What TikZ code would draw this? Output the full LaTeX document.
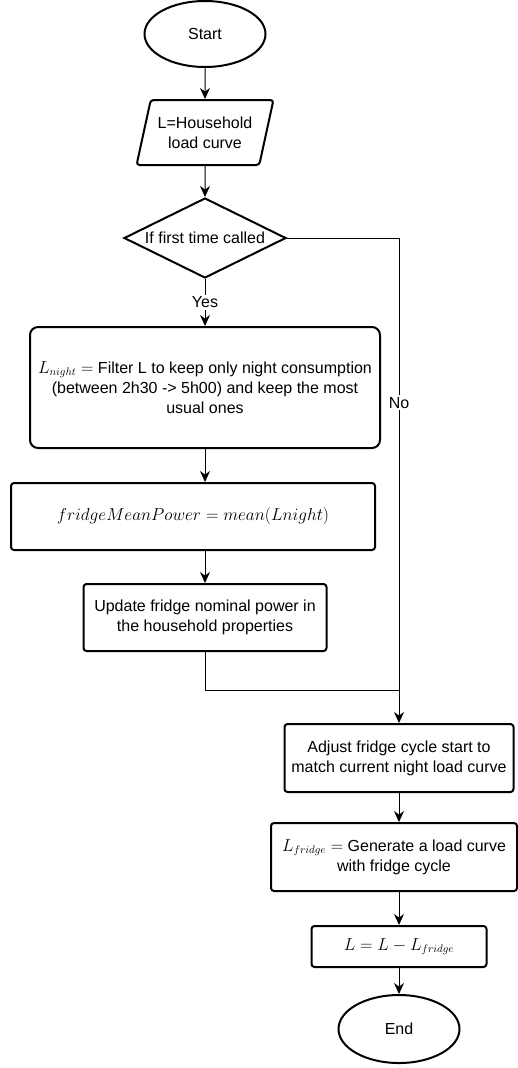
\documentclass[tikz,border=0pt]{standalone}
\usepackage{fontspec}
\setmainfont{Liberation Sans}
\usepackage{tikz}
\usetikzlibrary{positioning, shapes.geometric, arrows.meta}

\begin{document}
\begin{tikzpicture}[
        x=1pt, y=1pt,
        font=\fontsize{16}{20}\selectfont,
        terminal/.style={ellipse, draw, line width=2pt, minimum width=121pt, minimum height=66pt},
        io/.style={trapezium, trapezium left angle=71, trapezium right angle=109, trapezium stretches=true,
            draw, line width=2pt, rounded corners=3pt, align=center, minimum width=137pt, minimum height=65pt},
        decision/.style={diamond, draw, line width=2pt, minimum width=162pt, minimum height=80pt, inner sep=0pt},
        process/.style={rectangle, draw, line width=2pt, rounded corners=3pt, align=center},
        arrow/.style={-{Stealth[length=11pt, width=10pt]}, line width=1pt},
        line/.style={line width=1pt}
    ]
        \useasboundingbox (0,0) rectangle (518,-1068);

        % Nodes
        \node (start) [terminal] at (205,-34) {Start};
        \node (input) [io, below=31pt of start] {L=Household\\load curve};
        \node (first) [decision, below=31pt of input, label=center:{If first time called}] {};
        \node (night) [process, rounded corners=8pt, below=47pt of first, minimum width=350pt, minimum height=121pt]
            {$L_{night} =$ Filter L to keep only night consumption\\(between 2h30 -> 5h00) and keep the most\\usual ones};
        \node (meanpow) [process, below=33pt of night, xshift=-12pt, minimum width=364pt, minimum height=67pt]
            {$fridgeMeanPower = mean(Lnight)$};
        \node (update) [process, below=32pt of meanpow, xshift=12pt, minimum width=243pt, minimum height=67pt]
            {Update fridge nominal power in\\the household properties};
        \coordinate [below=38pt of update, xshift=194pt] (merge);
        \node (adjust) [process, below=33pt of merge, minimum width=229pt, minimum height=68pt]
            {Adjust fridge cycle start to\\match current night load curve};
        \node (gen) [process, below=29pt of adjust, xshift=-5pt, minimum width=246pt, minimum height=68pt]
            {$L_{fridge} =$ Generate a load curve\\with fridge cycle};
        \node (subtract) [process, below=33pt of gen, xshift=5pt, minimum width=175pt, minimum height=41pt]
            {$L = L - L_{fridge}$};
        \node (end) [terminal, below=26pt of subtract, minimum height=68pt] {End};

        % Arrows
        \draw [arrow] (start) -- (input);
        \draw [arrow] (input) -- (first);
        \draw [arrow] (first) -- node[fill=white, inner sep=2pt] {Yes} (night);
        \draw [arrow] (night.south) -- (night.south |- meanpow.north);
        \draw [arrow] (update.north |- meanpow.south) -- (update.north);
        \draw [arrow] (first.east) -| node[pos=0.67, fill=white, inner sep=2pt] {No} (adjust.north);
        \draw [line] (update.south) |- (merge);
        \draw [arrow] (adjust.south) -- (adjust.south |- gen.north);
        \draw [arrow] (subtract.north |- gen.south) -- (subtract.north);
        \draw [arrow] (subtract) -- (end);
    \end{tikzpicture}
\end{document}
